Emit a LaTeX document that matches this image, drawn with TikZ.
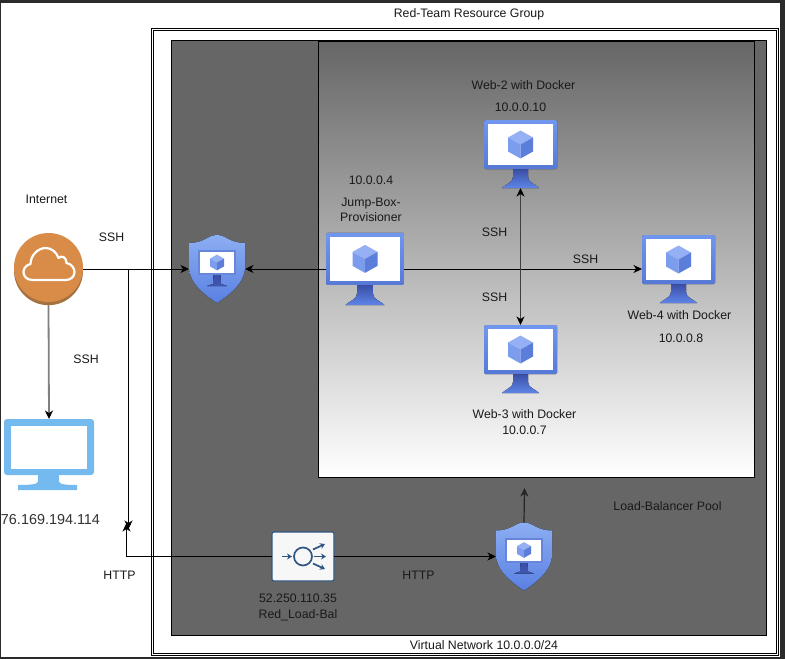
\documentclass[tikz,border=0pt]{standalone}
\usepackage{fontspec}
\setmainfont{Liberation Sans}
\usetikzlibrary{arrows.meta, positioning}
\definecolor{pagedark}{HTML}{2B2B2B}
\definecolor{vnetgrey}{HTML}{666666}
\definecolor{vmtop}{HTML}{7096EE}
\definecolor{vmbot}{HTML}{5679D6}
\definecolor{standtop}{HTML}{3A4EA5}
\definecolor{standbot}{HTML}{5F85E8}
\definecolor{cubetop}{HTML}{96B0F6}
\definecolor{cubeleft}{HTML}{7C9CEE}
\definecolor{cuberight}{HTML}{5A7EDA}
\definecolor{shieldtop}{HTML}{8CAEF2}
\definecolor{shieldbot}{HTML}{5A80E2}
\definecolor{cloudorange}{HTML}{D98C47}
\definecolor{cloudrim}{HTML}{A5713F}
\definecolor{desktopblue}{HTML}{74BAEE}
\definecolor{lbblue}{HTML}{2F5580}

\begin{document}
\begin{tikzpicture}[
  x=1pt, y=-1pt, >=Stealth,
  conn/.style={-{Stealth[length=8.5pt,width=8pt,inset=2.5pt]}, black, line width=0.9pt},
  lbl/.style={font=\fontsize{12.3}{15.5}\selectfont, inner sep=0pt, align=center, text=black!90},
  iconbox/.style={inner sep=0pt, outer sep=0pt, minimum width=#1},
  lbarrow/.style={lbblue, line width=1.7pt, -{Stealth[length=5pt,width=6pt]}},
  cubeicon/.pic={
    \fill[cubetop]   (0,-14) -- (-12.5,-7) -- (0,0) -- (12.5,-7) -- cycle;
    \fill[cubeleft]  (-12.5,-7) -- (0,0) -- (0,14) -- (-12.5,7) -- cycle;
    \fill[cuberight] (12.5,-7) -- (0,0) -- (0,14) -- (12.5,7) -- cycle;
  },
  vmicon/.pic={
    \fill[top color=standtop, bottom color=standbot]
      (-7.5,15) -- (-7.5,23) .. controls (-7.5,29) and (-15,30) .. (-18.5,34)
      -- (18.5,34) .. controls (15,30) and (7.5,29) .. (7.5,23) -- (7.5,15) -- cycle;
    \fill[top color=vmtop, bottom color=vmbot, rounded corners=1.5pt]
      (-36.5,-34) rectangle (36.5,15);
    \fill[white] (-32.5,-30) rectangle (32.5,11);
    \pic at (0,-9.5) {cubeicon};
  },
  shieldicon/.pic={
    \fill[top color=shieldtop, bottom color=shieldbot]
      (0,-34) .. controls (-9,-34) and (-12,-26) .. (-28,-26) -- (-28,-2)
      .. controls (-28,14) and (-12,26) .. (0,34)
      .. controls (12,26) and (28,14) .. (28,-2) -- (28,-26)
      .. controls (12,-26) and (9,-34) .. (0,-34) -- cycle;
    \fill[top color=standtop, bottom color=standtop!80!standbot]
      (-3.5,6) -- (3.5,6) -- (4,15) -- (10,17) -- (-10,17) -- (-4,15) -- cycle;
    \fill[vmbot!90!white] (-19,-19) rectangle (19,6);
    \fill[white] (-17,-17) rectangle (16.5,4);
    \pic[scale=0.56] at (0,-6.5) {cubeicon};
  },
  cloudicon/.pic={
    \fill[cloudrim]    (0,1.7) circle[radius=34.5];
    \fill[cloudorange] (0,-1.5) circle[radius=34.5];
    \draw[white, line width=2.2pt, line join=round]
      (-16,11) .. controls (-22,11) and (-25,7) .. (-25,3)
      .. controls (-25,-1) and (-22,-4) .. (-18,-5)
      .. controls (-18,-14) and (-10,-21) .. (-3,-21)
      .. controls (3,-21) and (8,-17) .. (10,-11)
      .. controls (13,-14) and (18,-12) .. (18,-6)
      .. controls (23,-5) and (26,-1) .. (26,3)
      .. controls (26,8) and (22,11) .. (17,11) -- cycle;
  },
  desktopicon/.pic={
    \fill[desktopblue] (-11,20) rectangle (10,30);
    \fill[desktopblue] (-31,30.5) .. controls (-20,30.5) and (-11,30) .. (-11,27)
      -- (10,27) .. controls (10,30) and (18,30.5) .. (28,30.5)
      -- (28,35.5) -- (-31,35.5) -- cycle;
    \fill[desktopblue, rounded corners=3pt] (-45,-35.5) rectangle (45,20.5);
    \fill[white] (-38,-29) rectangle (38,14.5);
  },
  lbicon/.pic={
    \draw[lbblue, line width=1.7pt] (0,0) circle[radius=9];
    \draw[lbarrow] (-21,0) -- (-11,0);
    \draw[lbarrow] (11,0) -- (23,0);
    \draw[lbarrow] (10,-7) -- (22,-12.5);
    \draw[lbarrow] (10,7) -- (22,12.5);
  }
]
  \useasboundingbox (0,0) rectangle (785,659);

  %--- page and group frames ---
  \fill[pagedark] (0,0) rectangle (785,659);
  \fill[white] (1,3) rectangle (780,657);
  \draw[black, line width=0.9pt] (151,28.4) rectangle (778.4,655.8);
  \draw[black, line width=0.9pt] (153.2,30.6) rectangle (776.2,653.6);
  \draw[black, line width=0.9pt, fill=vnetgrey] (171.5,40.5) rectangle (766.5,635);
  \draw[black, line width=0.9pt, top color=vnetgrey, bottom color=white]
    (318.5,41) rectangle (754.5,477);

  %--- icons ---
  \node[iconbox=69pt, minimum height=72pt] (internet) at (48.5,269) {};
  \pic at (internet) {cloudicon};
  \node[iconbox=90pt, minimum height=71pt] (desktop) at (49,454.5) {};
  \pic at (desktop) {desktopicon};
  \node[iconbox=56pt, minimum height=68pt] (gateway) at (217,269) {};
  \pic at (gateway) {shieldicon};
  \node[iconbox=78pt, minimum height=72pt] (jumpbox) at (365,269) {};
  \pic[scale=1.065] at (jumpbox) {vmicon};
  \node[iconbox=73pt, minimum height=68pt] (webtwo) at (520.5,154) {};
  \pic at (webtwo) {vmicon};
  \node[iconbox=73pt, minimum height=68pt] (webthree) at (520.5,359) {};
  \pic at (webthree) {vmicon};
  \node[iconbox=73pt, minimum height=68pt] (webfour) at (678.5,269) {};
  \pic at (webfour) {vmicon};
  \node[iconbox=62pt, minimum height=49pt, draw=lbblue, fill=white!97!black,
        line width=1.1pt, rounded corners=2pt] (balancer) at (303,556.5) {};
  \pic at (balancer) {lbicon};
  \node[iconbox=56pt, minimum height=68pt] (poolguard) at (524,556.5) {};
  \pic at (poolguard) {shieldicon};

  %--- free ends ---
  \coordinate (tee) at (128.5,269);
  \coordinate (crossdown) at (128.5,529);
  \coordinate (crossup) at (126.5,523);
  \coordinate (poolentry) at (524.5,488);

  %--- connectors ---
  \draw[conn] (internet.east) -- (gateway.west);
  \draw[conn] (jumpbox.west) -- (gateway.east);
  \draw[conn] (jumpbox.east) -- (webfour.west);
  \draw[black!75, line width=1.2pt,
        {Stealth[length=8.5pt,width=8pt,inset=2.5pt,black]}-{Stealth[length=8.5pt,width=8pt,inset=2.5pt,black]}]
    (webtwo.south) -- (webthree.north);
  \draw[conn] (tee) -- (crossdown);
  \draw[conn] (balancer.west) -| (crossup);
  \draw[conn] (balancer.east) -- (poolguard.west);
  \draw[conn, black!85, line width=1.2pt] (poolguard.north) -- (poolentry);
  \draw[gray, line width=1.8pt, -{Stealth[length=8.5pt,width=8pt,inset=2.5pt,black]}]
    (internet.south) -- (desktop.north);

  %--- labels ---
  \node[lbl] (grouplabel) at (469,14) {Red-Team Resource Group};
  \node[lbl] (vnetlabel) at (484,645.5) {Virtual Network 10.0.0.0/24};
  \node[lbl] (internetlabel) at (46.5,199.5) {Internet};
  \node[lbl] (sshgateway) at (111.5,237.5) {SSH};
  \node[lbl] (sshdesktop) at (86,359.5) {SSH};
  \node[lbl, font=\fontsize{14.4}{16}\selectfont, text=black!80] (desktopip) at (50.5,519.5) {76.169.194.114};
  \node[lbl] (httpleft) at (119.5,575.5) {HTTP};
  \node[lbl] (httpright) at (418.5,575.5) {HTTP};
  \node[lbl] (jumpip) at (371,180) {10.0.0.4};
  \node[lbl] (jumpname) at (371,210) {Jump-Box-\\Provisioner};
  \node[lbl] (webtwoname) at (523.5,85.5) {Web-2 with Docker};
  \node[lbl] (webtwoip) at (520.5,107.5) {10.0.0.10};
  \node[lbl] (sshup) at (494.5,232.5) {SSH};
  \node[lbl] (sshdown) at (494.5,297) {SSH};
  \node[lbl] (sshright) at (585.5,259.5) {SSH};
  \node[lbl] (webfourname) at (679.5,315.5) {Web-4 with Docker};
  \node[lbl] (webfourip) at (681,338.5) {10.0.0.8};
  \node[lbl] (webthreename) at (524.5,422) {Web-3 with Docker\\10.0.0.7};
  \node[lbl] (poollabel) at (667.5,506.5) {Load-Balancer Pool};
  \node[lbl] (balancerlabel) at (298,607.5) {52.250.110.35\\Red\_Load-Bal};

\end{tikzpicture}
\end{document}
